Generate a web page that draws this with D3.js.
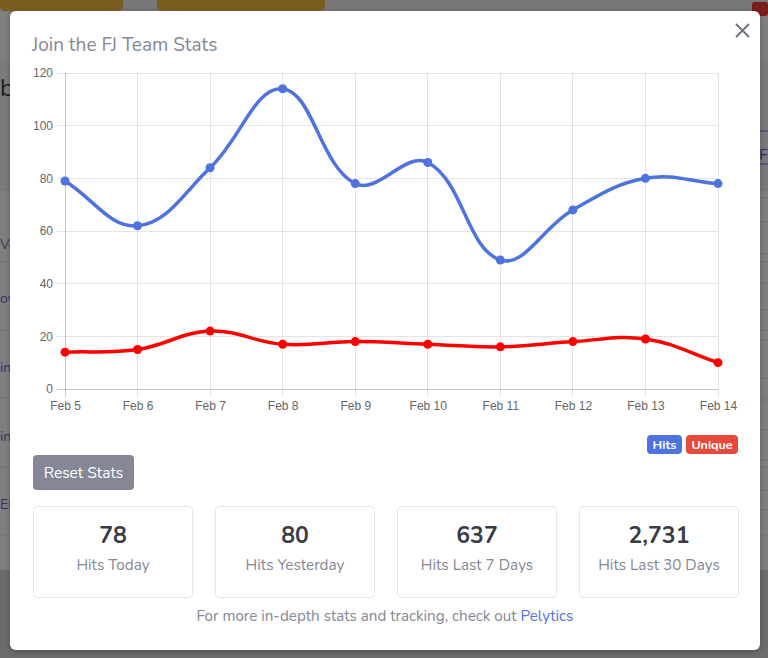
<!DOCTYPE html>
<html>
<head>
<meta charset="utf-8">
<script src="https://cdn.jsdelivr.net/npm/d3@7"></script>
<style>
  html, body { margin: 0; padding: 0; background: #808080; }
  svg { display: block; }
</style>
</head>
<body>
<svg id="page" width="768" height="658"></svg>
<script>
// ---- data ----
const dates = ["Feb 5","Feb 6","Feb 7","Feb 8","Feb 9","Feb 10","Feb 11","Feb 12","Feb 13","Feb 14"];
const hits = [79, 62, 84, 114, 78, 86, 49, 68, 80, 78];
const unique = [14, 15, 22, 17, 18, 17, 16, 18, 19, 10];
const yTicks = [0, 20, 40, 60, 80, 100, 120];
const legendLabels = ["Hits", "Unique"];
const statValues = ["78", "80", "637", "2,731"];
const statLabels = ["Hits Today", "Hits Yesterday", "Hits Last 7 Days", "Hits Last 30 Days"];

(function () {
const svg = d3.select("#page");
const uiFont = "Nunito, Lato, 'Open Sans', sans-serif";
const axisFont = "'Liberation Sans', Arial, Helvetica, sans-serif";

// ---- dimmed background page ----
const bg = svg.append("g");
bg.append("rect").attr("x",0).attr("y",0).attr("width",768).attr("height",658).attr("fill","#7f7f7f");
bg.append("rect").attr("x",0).attr("y",0).attr("width",768).attr("height",12).attr("fill","#777777");
bg.append("rect").attr("x",0).attr("y",-6).attr("width",123).attr("height",17).attr("rx",5).attr("fill","#7b5d1f");
bg.append("rect").attr("x",157).attr("y",-6).attr("width",168).attr("height",17).attr("rx",5).attr("fill","#7b5d1f");
bg.append("rect").attr("x",752).attr("y",2).attr("width",16).attr("height",14).attr("rx",3).attr("fill","#7a1c1c");
bg.append("rect").attr("x",0).attr("y",60).attr("width",768).attr("height",130).attr("fill","#7a7a7a");
bg.append("rect").attr("x",0).attr("y",570).attr("width",768).attr("height",88).attr("fill","#6c6c6c");
[190,262,330,398,467,535].forEach(yy => bg.append("line").attr("x1",0).attr("x2",768).attr("y1",yy).attr("y2",yy).attr("stroke","#747474"));
[198,222,254,283,310,340,378,400,430,460,490,510].forEach(yy => bg.append("line").attr("x1",755).attr("x2",768).attr("y1",yy).attr("y2",yy).attr("stroke","#747474"));
bg.append("line").attr("x1",755).attr("x2",768).attr("y1",131).attr("y2",131).attr("stroke","#2a3a7a");
bg.append("line").attr("x1",755).attr("x2",768).attr("y1",164).attr("y2",164).attr("stroke","#2a3a7a");
bg.append("text").attr("x",759).attr("y",160).attr("font-family",uiFont).attr("font-size",16).attr("fill","#27306a").text("F");
const bgTexts = [["b",0,96,"#1c1c24",24],["Ve",0,249,"#3a3a50",14],["ov",0,303,"#2f2f6a",14],["in",0,372,"#2f2f6a",14],["in",0,441,"#2f2f6a",14],["EF",0,509,"#2f2f6a",14]];
bgTexts.forEach(d => bg.append("text").attr("x",d[1]).attr("y",d[2]).attr("font-family",uiFont).attr("font-size",d[4]).attr("fill",d[3]).text(d[0]));

// ---- modal ----
const defs = svg.append("defs");
const f = defs.append("filter").attr("id","sh").attr("x","-5%").attr("y","-5%").attr("width","110%").attr("height","110%");
f.append("feDropShadow").attr("dx",0).attr("dy",2).attr("stdDeviation",3).attr("flood-color","#000").attr("flood-opacity",0.25);
svg.append("rect").attr("x",10).attr("y",11).attr("width",750).attr("height",639).attr("rx",6)
  .attr("fill","#ffffff").attr("filter","url(#sh)");

svg.append("text").attr("x",32).attr("y",51).attr("font-family",uiFont).attr("font-size",19)
  .attr("fill","#858796").text("Join the FJ Team Stats");
// close X
svg.append("path").attr("d","M736,24 L749,37 M749,24 L736,37").attr("stroke","#6e707e").attr("stroke-width",1.8).attr("fill","none");

// ---- chart ----
const pLeft = 65, pRight = 718, pTop = 73, pBottom = 389;
const x = d3.scalePoint().domain(dates).range([pLeft, pRight]);
const y = d3.scaleLinear().domain([0, 120]).range([pBottom, pTop]);
const chart = svg.append("g");

// gridlines
chart.selectAll(".hg").data(yTicks).join("line")
  .attr("x1", pLeft - 8).attr("x2", pRight).attr("y1", d => y(d)).attr("y2", d => y(d))
  .attr("stroke", d => d === 0 ? "rgba(0,0,0,0.22)" : "rgba(0,0,0,0.1)").attr("stroke-width",1)
  .attr("shape-rendering","crispEdges");
chart.selectAll(".vg").data(dates).join("line")
  .attr("x1", d => x(d)).attr("x2", d => x(d)).attr("y1", pTop).attr("y2", pBottom + 8)
  .attr("stroke", (d,i) => i === 0 ? "rgba(0,0,0,0.22)" : "rgba(0,0,0,0.1)").attr("stroke-width",1)
  .attr("shape-rendering","crispEdges");

// axes labels via d3 axes
const yAxis = chart.append("g").attr("transform",`translate(${pLeft - 12},0)`)
  .call(d3.axisLeft(y).tickValues(yTicks).tickSize(0).tickPadding(0));
const xAxis = chart.append("g").attr("transform",`translate(0,${pBottom + 12})`)
  .call(d3.axisBottom(x).tickSize(0).tickPadding(0));
[yAxis, xAxis].forEach(a => {
  a.select(".domain").remove();
  a.selectAll("text").attr("font-family", axisFont).attr("font-size", 12).attr("fill", "#666");
});
xAxis.selectAll("text").attr("dy","0.71em");

// Chart.js style spline
function splinePath(pts, t) {
  const cap = (v, lo, hi) => Math.max(lo, Math.min(hi, v));
  const cps = pts.map((cur, i) => {
    const prev = pts[i - 1] || cur, next = pts[i + 1] || cur;
    const d01 = Math.hypot(cur[0] - prev[0], cur[1] - prev[1]);
    const d12 = Math.hypot(next[0] - cur[0], next[1] - cur[1]);
    let s01 = d01 / (d01 + d12), s12 = d12 / (d01 + d12);
    if (isNaN(s01)) s01 = 0; if (isNaN(s12)) s12 = 0;
    const fa = t * s01, fb = t * s12;
    return {
      px: cap(cur[0] - fa * (next[0] - prev[0]), pLeft, pRight), py: cap(cur[1] - fa * (next[1] - prev[1]), pTop, pBottom),
      nx: cap(cur[0] + fb * (next[0] - prev[0]), pLeft, pRight), ny: cap(cur[1] + fb * (next[1] - prev[1]), pTop, pBottom)
    };
  });
  const p = d3.path();
  p.moveTo(pts[0][0], pts[0][1]);
  for (let i = 1; i < pts.length; i++) {
    p.bezierCurveTo(cps[i-1].nx, cps[i-1].ny, cps[i].px, cps[i].py, pts[i][0], pts[i][1]);
  }
  return p.toString();
}

const series = [
  { name: "Hits", values: hits, color: "#4e73df" },
  { name: "Unique", values: unique, color: "#ff0000" }
];
series.forEach(s => {
  const pts = s.values.map((v, i) => [x(dates[i]), y(v)]);
  chart.append("path").attr("d", splinePath(pts, 0.4)).attr("fill","none")
    .attr("stroke", s.color).attr("stroke-width", 3.5).attr("stroke-linejoin","round");
  chart.append("g").selectAll("circle").data(pts).join("circle")
    .attr("cx", d => d[0]).attr("cy", d => d[1]).attr("r", 4.5).attr("fill", s.color);
});

// ---- legend badges ----
const badgeColors = ["#4e73df", "#e74a3b"];
const badgeX = [647, 686], badgeW = [35, 52];
legendLabels.forEach((lab, i) => {
  svg.append("rect").attr("x", badgeX[i]).attr("y", 435).attr("width", badgeW[i]).attr("height", 19).attr("rx", 4).attr("fill", badgeColors[i]);
  svg.append("text").attr("x", badgeX[i] + badgeW[i] / 2).attr("y", 448.5).attr("text-anchor","middle")
    .attr("font-family", uiFont).attr("font-size", 12.5).attr("font-weight", 700).attr("fill","#fff").text(lab);
});

// ---- reset button ----
svg.append("rect").attr("x",33).attr("y",455).attr("width",101).attr("height",35).attr("rx",4).attr("fill","#858796");
svg.append("text").attr("x",83.5).attr("y",478).attr("text-anchor","middle").attr("font-family",uiFont)
  .attr("font-size",15.5).attr("fill","#fff").text("Reset Stats");

// ---- stat cards ----
const cardX = [33, 215, 397, 579], cardW = 159;
statValues.forEach((v, i) => {
  svg.append("rect").attr("x", cardX[i] + 0.5).attr("y", 506.5).attr("width", cardW).attr("height", 91).attr("rx", 4)
    .attr("fill","#fff").attr("stroke","#e3e6f0");
  svg.append("text").attr("x", cardX[i] + cardW / 2 + 0.5).attr("y", 543).attr("text-anchor","middle")
    .attr("font-family", uiFont).attr("font-size", 23).attr("font-weight", 700).attr("fill","#3a3b45").text(v);
  svg.append("text").attr("x", cardX[i] + cardW / 2 + 0.5).attr("y", 570).attr("text-anchor","middle")
    .attr("font-family", uiFont).attr("font-size", 15.3).attr("fill","#858796").text(statLabels[i]);
});

// ---- footer ----
const foot = svg.append("text").attr("x", 385).attr("y", 621).attr("text-anchor","middle")
  .attr("font-family", uiFont).attr("font-size", 15.2).attr("fill","#858796");
foot.append("tspan").text("For more in-depth stats and tracking, check out ");
foot.append("tspan").attr("fill","#4e73df").text("Pelytics");
})();
</script>
</body>
</html>
